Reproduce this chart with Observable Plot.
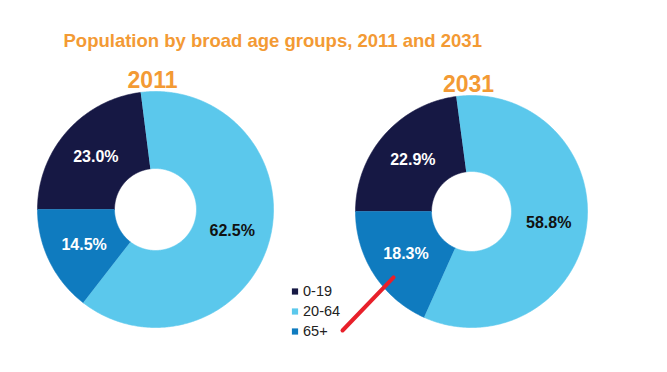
<!DOCTYPE html>
<html><head><meta charset="utf-8">
<script src="https://cdn.jsdelivr.net/npm/d3@7"></script>
<script src="https://cdn.jsdelivr.net/npm/@observablehq/plot@0.6"></script>
<style>body{margin:0;background:#fff;font-family:"Liberation Sans",Arial,sans-serif}</style>
</head><body><div id="chart"></div>
<script>
// ---- data ----
const title = "Population by broad age groups, 2011 and 2031";
const groups = ["0-19", "20-64", "65+"];
const years = ["2011", "2031"];
const share2011 = [23.0, 62.5, 14.5];
const share2031 = [22.9, 58.8, 18.3];
const groupColors = ["#161844", "#5bc8ec", "#0f7bbf"];
const labelColors = ["#ffffff", "#111111", "#ffffff"];

// ---- layout ----
const W = 667, H = 372;
const layout = {
  "2011": {cx: 155, cy: 209, r: 118, r0: 41, yearY: 80},
  "2031": {cx: 471, cy: 211, r: 116, r0: 40, yearY: 84}
};
const shares = {"2011": share2011, "2031": share2031};

const pie = d3.pie().sort(null).startAngle(-Math.PI / 2).endAngle(1.5 * Math.PI);
const polys = [], labels = [], yearLabels = [];
const arcsBy = {};
years.forEach(yr => {
  const L = layout[yr];
  yearLabels.push({text: yr, x: L.cx - 3, y: L.yearY});
  const arcs = pie(shares[yr]);
  arcsBy[yr] = arcs;
  arcs.forEach((a, i) => {
    const key = yr + "|" + groups[i];
    const n = Math.max(8, Math.ceil((a.endAngle - a.startAngle) / 0.01));
    for (let k = 0; k <= n; k++) {
      const t = a.startAngle + (a.endAngle - a.startAngle) * k / n;
      polys.push({key, group: groups[i], x: L.cx + L.r * Math.sin(t), y: L.cy - L.r * Math.cos(t)});
    }
    for (let k = n; k >= 0; k--) {
      const t = a.startAngle + (a.endAngle - a.startAngle) * k / n;
      polys.push({key, group: groups[i], x: L.cx + L.r0 * Math.sin(t), y: L.cy - L.r0 * Math.cos(t)});
    }
    const m = (a.startAngle + a.endAngle) / 2, rm = (L.r + L.r0) / 2;
    labels.push({text: a.data.toFixed(1) + "%", color: labelColors[i],
      x: L.cx + rm * Math.sin(m), y: L.cy - rm * Math.cos(m)});
  });
});

// legend
const legend = groups.map((g, i) => ({group: g, x: 294.5, y: 291 + i * 20}));

// annotation: red line from legend toward the 2031 "65+" slice
const a65 = arcsBy["2031"][2];
const tA = a65.startAngle + 0.39 * (a65.endAngle - a65.startAngle);
const L31 = layout["2031"];
const annot = [{x1: 342, y1: 330, x2: L31.cx + 102 * Math.sin(tA), y2: L31.cy - 102 * Math.cos(tA)}];

const chart = Plot.plot({
  width: W, height: H, margin: 0,
  x: {domain: [0, W], range: [0, W], axis: null},
  y: {domain: [0, H], range: [0, H], axis: null},
  color: {domain: groups, range: groupColors},
  style: {fontFamily: "'Liberation Sans', Arial, sans-serif", background: "#fff"},
  marks: [
    Plot.line(polys, {x: "x", y: "y", z: "key", fill: "group", stroke: "group", strokeWidth: 0.6, curve: "linear"}),
    Plot.text(labels, {x: "x", y: "y", text: "text", fill: d => d.color, fontSize: 16, fontWeight: "bold"}),
    Plot.text(yearLabels, {x: "x", y: "y", text: "text", fill: "#f39a34", fontSize: 23, fontWeight: "bold"}),
    Plot.text([title], {x: 63, y: 41, text: d => d, textAnchor: "start", fill: "#f39a34", fontSize: 18.5, fontWeight: "bold"}),
    Plot.dot(legend, {x: "x", y: "y", fill: "group", symbol: "square", r: 3.5, stroke: null}),
    Plot.text(legend, {x: d => d.x + 8, y: "y", text: "group", textAnchor: "start", fill: "#222", fontSize: 14.5}),
    Plot.link(annot, {x1: "x1", y1: "y1", x2: "x2", y2: "y2", stroke: "#e8202a", strokeWidth: 4, strokeLinecap: "round"})
  ]
});
document.getElementById("chart").appendChild(chart);
</script>
</body></html>
